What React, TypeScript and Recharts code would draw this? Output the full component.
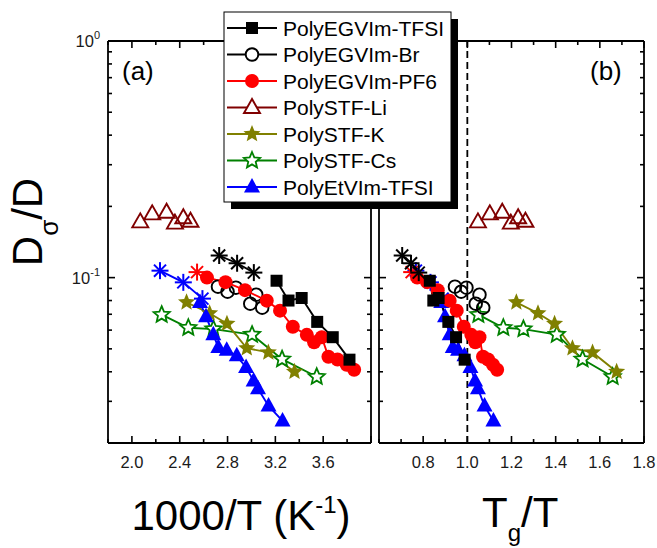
import React from 'react';
import { LineChart, Line, XAxis, YAxis, ReferenceLine } from 'recharts';

const FONT = '"Liberation Sans", Arial, Helvetica, sans-serif';

// Page and panel geometry (pixels)
const W = 657;
const H = 548;
const TOP = 41;
const BOTTOM = 443;
const A_LEFT = 108;
const A_RIGHT = 371;
const B_LEFT = 379;
const B_RIGHT = 644;
const Y_AXIS_W = 50;
const X_AXIS_H = 40;

// Axis ranges and tick lists
const yDomain: [number, number] = [0.02, 1];
const yTicks = [0.02, 0.03, 0.04, 0.05, 0.06, 0.07, 0.08, 0.09, 0.1, 0.2, 0.3, 0.4, 0.5, 0.6, 0.7, 0.8, 0.9, 1];
const yLabelTicks = [0.1, 1];
const aDomain: [number, number] = [1.8, 4.0];
const aTicks = [1.8, 2.0, 2.2, 2.4, 2.6, 2.8, 3.0, 3.2, 3.4, 3.6, 3.8, 4.0];
const aLabelTicks = [2.0, 2.4, 2.8, 3.2, 3.6];
const bDomain: [number, number] = [0.6, 1.8];
const bTicks = [0.6, 0.7, 0.8, 0.9, 1.0, 1.1, 1.2, 1.3, 1.4, 1.5, 1.6, 1.7, 1.8];
const bLabelTicks = [0.8, 1.0, 1.2, 1.4, 1.6, 1.8];

// PolyEGVIm-TFSI: high-temperature points (asterisks) and main set (squares)
const tfsiHotInvT = [2.73, 2.88, 3.02];
const tfsiHotTgT = [0.705, 0.745, 0.78];
const tfsiHotD = [0.124, 0.115, 0.105];
const tfsiInvT = [3.21, 3.31, 3.42, 3.55, 3.68, 3.82];
const tfsiTgT = [0.83, 0.846, 0.87, 0.914, 0.949, 0.988];
const tfsiD = [0.097, 0.08, 0.082, 0.065, 0.056, 0.045];

// PolyEGVIm-Br
const brInvT = [2.72, 2.8, 2.87, 2.99, 3.04, 3.09];
const brTgT = [0.944, 0.972, 0.996, 1.038, 1.055, 1.072];
const brD = [0.0916, 0.0872, 0.0907, 0.0776, 0.0847, 0.0746];

// PolyEGVIm-PF6
const pf6HotInvT = [2.545];
const pf6HotTgT = [0.748];
const pf6HotD = [0.1055];
const pf6InvT = [2.628, 2.783, 2.946, 3.128, 3.239, 3.346, 3.463, 3.524, 3.588, 3.644, 3.72, 3.797, 3.859];
const pf6TgT = [0.773, 0.818, 0.866, 0.92, 0.952, 0.984, 1.018, 1.036, 1.055, 1.071, 1.094, 1.116, 1.135];
const pf6D = [0.1, 0.0957, 0.0885, 0.0799, 0.0725, 0.062, 0.0573, 0.0533, 0.056, 0.0463, 0.0451, 0.0428, 0.0408];

// PolySTF-Li
const liInvT = [2.07, 2.17, 2.29, 2.36, 2.43, 2.49];
const liTgT = [1.048, 1.102, 1.158, 1.197, 1.23, 1.263];
const liD = [0.172, 0.186, 0.189, 0.17, 0.179, 0.173];

// PolySTF-K
const kInvT = [2.457, 2.65, 2.795, 2.961, 3.141, 3.36];
const kTgT = [1.222, 1.32, 1.395, 1.476, 1.567, 1.676];
const kD = [0.0786, 0.0707, 0.0638, 0.0503, 0.0483, 0.04];

// PolySTF-Cs
const csInvT = [2.249, 2.472, 2.682, 3.005, 3.256, 3.546];
const csTgT = [1.05, 1.163, 1.254, 1.405, 1.522, 1.658];
const csD = [0.0697, 0.0614, 0.0606, 0.0574, 0.0452, 0.0381];

// PolyEtVIm-TFSI: high-temperature points (asterisks) and main set (triangles)
const etHotInvT = [2.235, 2.43, 2.59];
const etHotTgT = [0.767, 0.833, 0.888];
const etHotD = [0.107, 0.0955, 0.0815];
const etInvT = [2.57, 2.62, 2.681, 2.723, 2.793, 2.877, 2.955, 3.018, 3.055, 3.143, 3.26];
const etTgT = [0.882, 0.899, 0.92, 0.934, 0.958, 0.987, 1.014, 1.035, 1.048, 1.078, 1.118];
const etD = [0.0784, 0.0684, 0.0574, 0.0507, 0.0493, 0.0467, 0.0417, 0.0366, 0.0339, 0.0287, 0.0248];

type Kind = 'square' | 'circle' | 'openCircle' | 'triangle' | 'openTriangle' | 'star' | 'openStar' | 'asterisk';

interface Part {
  invT: number[];
  tgT: number[];
  d: number[];
}

interface Series {
  name: string;
  color: string;
  kind: Kind;
  joined: boolean;
  main: Part;
  hot?: Part;
}

const BLACK = '#000000';
const RED = '#ff0000';
const WINE = '#800000';
const OLIVE = '#808000';
const GREEN = '#008000';
const BLUE = '#0000ff';

// legend order
const series: Series[] = [
  { name: 'PolyEGVIm-TFSI', color: BLACK, kind: 'square', joined: true, main: { invT: tfsiInvT, tgT: tfsiTgT, d: tfsiD }, hot: { invT: tfsiHotInvT, tgT: tfsiHotTgT, d: tfsiHotD } },
  { name: 'PolyEGVIm-Br', color: BLACK, kind: 'openCircle', joined: false, main: { invT: brInvT, tgT: brTgT, d: brD } },
  { name: 'PolyEGVIm-PF6', color: RED, kind: 'circle', joined: true, main: { invT: pf6InvT, tgT: pf6TgT, d: pf6D }, hot: { invT: pf6HotInvT, tgT: pf6HotTgT, d: pf6HotD } },
  { name: 'PolySTF-Li', color: WINE, kind: 'openTriangle', joined: false, main: { invT: liInvT, tgT: liTgT, d: liD } },
  { name: 'PolySTF-K', color: OLIVE, kind: 'star', joined: true, main: { invT: kInvT, tgT: kTgT, d: kD } },
  { name: 'PolySTF-Cs', color: GREEN, kind: 'openStar', joined: true, main: { invT: csInvT, tgT: csTgT, d: csD } },
  { name: 'PolyEtVIm-TFSI', color: BLUE, kind: 'triangle', joined: true, main: { invT: etInvT, tgT: etTgT, d: etD }, hot: { invT: etHotInvT, tgT: etHotTgT, d: etHotD } },
];

// drawing order inside the panels (later = on top)
const drawOrder = ['PolySTF-Li', 'PolySTF-Cs', 'PolySTF-K', 'PolyEtVIm-TFSI', 'PolyEGVIm-Br', 'PolyEGVIm-PF6', 'PolyEGVIm-TFSI'];

function starPoints(cx: number, cy: number, R: number, r: number): string {
  const out: string[] = [];
  for (let i = 0; i < 10; i++) {
    const ang = -Math.PI / 2 + (i * Math.PI) / 5;
    const rad = i % 2 === 0 ? R : r;
    out.push(`${(cx + rad * Math.cos(ang)).toFixed(2)},${(cy + rad * Math.sin(ang)).toFixed(2)}`);
  }
  return out.join(' ');
}

function Marker({ kind, cx, cy, color, legend }: { kind: Kind; cx: number; cy: number; color: string; legend?: boolean }) {
  switch (kind) {
    case 'square':
      return <rect x={cx - 6} y={cy - 6} width={12} height={12} fill={color} />;
    case 'circle':
      return <circle cx={cx} cy={cy} r={7} fill={color} />;
    case 'openCircle':
      return <circle cx={cx} cy={cy} r={6.3} fill={legend ? '#fff' : 'none'} stroke={color} strokeWidth={1.9} />;
    case 'triangle':
      return <polygon points={`${cx},${cy - 9} ${cx - 8},${cy + 5.5} ${cx + 8},${cy + 5.5}`} fill={color} />;
    case 'openTriangle':
      return (
        <polygon
          points={`${cx},${cy - 8.5} ${cx - 8},${cy + 5.5} ${cx + 8},${cy + 5.5}`}
          fill={legend ? '#fff' : 'none'}
          stroke={color}
          strokeWidth={1.9}
        />
      );
    case 'star':
      return <polygon points={starPoints(cx, cy, 9, 4)} fill={color} />;
    case 'openStar':
      return <polygon points={starPoints(cx, cy, 8.5, 3.9)} fill="#fff" stroke={color} strokeWidth={1.8} />;
    case 'asterisk': {
      const r = 8.5;
      const q = r * Math.SQRT1_2;
      return (
        <g stroke={color} strokeWidth={2}>
          <line x1={cx - r} y1={cy} x2={cx + r} y2={cy} />
          <line x1={cx} y1={cy - r} x2={cx} y2={cy + r} />
          <line x1={cx - q} y1={cy - q} x2={cx + q} y2={cy + q} />
          <line x1={cx - q} y1={cy + q} x2={cx + q} y2={cy - q} />
        </g>
      );
    }
    default:
      return null;
  }
}

const rows = (xs: number[], ys: number[]) => xs.map((x, i) => ({ x, y: ys[i] }));

function seriesLines(useTg: boolean) {
  const out: React.ReactElement[] = [];
  drawOrder.forEach((name) => {
    const s = series.find((e) => e.name === name)!;
    const parts: { part: Part; kind: Kind; tag: string }[] = [{ part: s.main, kind: s.kind, tag: 'main' }];
    if (s.hot) parts.push({ part: s.hot, kind: 'asterisk', tag: 'hot' });
    parts.forEach(({ part, kind, tag }) => {
      const data = rows(useTg ? part.tgT : part.invT, part.d);
      out.push(
        <Line
          key={`${name}-${tag}`}
          data={data}
          dataKey="y"
          type="linear"
          stroke={s.joined ? s.color : 'none'}
          strokeWidth={1.9}
          isAnimationActive={false}
          activeDot={false}
          legendType="none"
          dot={(p: any) => <Marker key={`${name}-${tag}-${p.index}`} kind={kind} cx={p.cx} cy={p.cy} color={s.color} />}
        />
      );
    });
  });
  return out;
}

const near = (a: number, list: number[]) => list.some((v) => Math.abs(v - a) < 1e-6);

function Panel({ which }: { which: 'a' | 'b' }) {
  const isA = which === 'a';
  const left = isA ? A_LEFT : B_LEFT;
  const right = isA ? A_RIGHT : B_RIGHT;
  const xDomain = isA ? aDomain : bDomain;
  const xTicks = isA ? aTicks : bTicks;
  const xLabels = isA ? aLabelTicks : bLabelTicks;

  const xTick = (props: any) => {
    const x = props.x;
    const v = props.payload.value;
    const labeled = near(v, xLabels);
    const len = labeled || near(v, [xDomain[1]]) ? 7 : 4;
    return (
      <g key={`xt-${v}`}>
        <line x1={x} x2={x} y1={BOTTOM} y2={BOTTOM - len} stroke="#000" strokeWidth={1.6} />
        <line x1={x} x2={x} y1={TOP} y2={TOP + len} stroke="#000" strokeWidth={1.6} />
        {labeled && (
          <text x={x} y={BOTTOM + 25} textAnchor="middle" fontSize={16.5} fontFamily={FONT} fill="#1a1a1a">
            {v.toFixed(1)}
          </text>
        )}
      </g>
    );
  };

  const yTick = (props: any) => {
    const y = props.y;
    const v = props.payload.value;
    const major = near(v, yLabelTicks);
    const len = major ? 7 : 4;
    return (
      <g key={`yt-${v}`}>
        <line x1={left} x2={left + len} y1={y} y2={y} stroke="#000" strokeWidth={1.6} />
        <line x1={right} x2={right - len} y1={y} y2={y} stroke="#000" strokeWidth={1.6} />
        {isA && major && (
          <text x={left - 8} y={y + 6} textAnchor="end" fontSize={16.5} fontFamily={FONT} fill="#1a1a1a">
            10
            <tspan dy={-8} fontSize={11}>
              {v === 1 ? '0' : '-1'}
            </tspan>
          </text>
        )}
      </g>
    );
  };

  return (
    <div style={{ position: 'absolute', left: 0, top: 0 }}>
      <LineChart
        width={W}
        height={H}
        margin={{ top: TOP, bottom: H - BOTTOM - X_AXIS_H, left: left - Y_AXIS_W, right: W - right }}
      >
        <XAxis
          type="number"
          dataKey="x"
          domain={xDomain}
          ticks={xTicks}
          interval={0}
          height={X_AXIS_H}
          tickSize={0}
          tickMargin={0}
          tickLine={false}
          axisLine={{ stroke: '#000', strokeWidth: 1.8 }}
          tick={xTick}
        />
        <YAxis
          type="number"
          scale="log"
          domain={yDomain}
          ticks={yTicks}
          interval={0}
          width={Y_AXIS_W}
          tickSize={0}
          tickMargin={0}
          tickLine={false}
          axisLine={{ stroke: '#000', strokeWidth: 1.8 }}
          tick={yTick}
        />
        <ReferenceLine y={yDomain[1]} stroke="#000" strokeWidth={1.8} />
        <ReferenceLine x={xDomain[1]} stroke="#000" strokeWidth={1.8} />
        {!isA && <ReferenceLine x={1} stroke="#000" strokeWidth={1.8} strokeDasharray="7 4" />}
        {seriesLines(!isA)}
      </LineChart>
    </div>
  );
}

function Legend() {
  const x0 = 224;
  const y0 = 12;
  const w = 227;
  const h = 190;
  return (
    <g>
      <rect x={x0 + 7} y={y0 + 7} width={w} height={h} fill="#000" />
      <rect x={x0} y={y0} width={w} height={h} fill="#fff" stroke="#000" strokeWidth={1} />
      {series.map((s, i) => {
        const cy = 28 + i * 26.5;
        return (
          <g key={s.name}>
            <line x1={x0 + 3} x2={x0 + 53} y1={cy} y2={cy} stroke={s.color} strokeWidth={1.9} />
            <Marker kind={s.kind} cx={x0 + 28} cy={cy} color={s.color} legend />
            <text x={x0 + 59} y={cy + 7.5} fontSize={21} fontFamily={FONT} fill="#000">
              {s.name}
            </text>
          </g>
        );
      })}
    </g>
  );
}

export default function App() {
  return (
    <div style={{ position: 'absolute', left: 0, top: 0, width: W, height: H, background: '#fff', overflow: 'hidden' }}>
      <Panel which="a" />
      <Panel which="b" />
      <svg width={W} height={H} style={{ position: 'absolute', left: 0, top: 0, pointerEvents: 'none' }}>
        <text x={122} y={80} fontSize={26} fontFamily={FONT} fill="#000">
          (a)
        </text>
        <text x={590} y={80} fontSize={26} fontFamily={FONT} fill="#000">
          (b)
        </text>
        <text transform="translate(42,222) rotate(-90)" textAnchor="middle" fontSize={42} fontFamily={FONT} fill="#000">
          D
          <tspan dy={16} fontSize={26}>
            σ
          </tspan>
          <tspan dy={-16}>/D</tspan>
        </text>
        <text x={241} y={530} textAnchor="middle" fontSize={42} fontFamily={FONT} fill="#000">
          1000/T (K
          <tspan dy={-17} fontSize={24}>
            -1
          </tspan>
          <tspan dy={17}>)</tspan>
        </text>
        <text x={482} y={527} fontSize={42} fontFamily={FONT} fill="#000">
          T
          <tspan dy={14} fontSize={24}>
            g
          </tspan>
          <tspan dy={-14}>/T</tspan>
        </text>
        <Legend />
      </svg>
    </div>
  );
}
